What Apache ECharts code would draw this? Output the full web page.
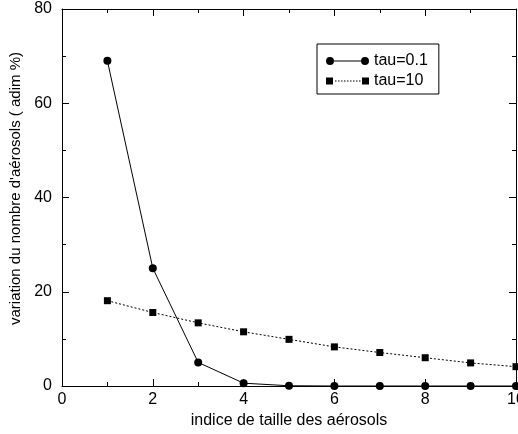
<!DOCTYPE html>
<html>
<head>
<meta charset="utf-8">
<script src="https://cdn.jsdelivr.net/npm/echarts@6/dist/echarts.min.js"></script>
<style>html,body{margin:0;padding:0;background:#fff;}#c{width:518px;height:434px;}</style>
</head>
<body>
<div id="c"></div>
<script>
var indices = [1, 2, 3, 4, 5, 6, 7, 8, 9, 10];
var tau01 = [69, 25, 5, 0.6, 0.05, 0, 0, 0, 0, 0];
var tau10 = [18.1, 15.6, 13.4, 11.5, 9.9, 8.3, 7.1, 6.0, 4.9, 4.1];
var seriesNames = ['tau=0.1', 'tau=10'];
var xTitle = 'indice de taille des aérosols';
var yTitle = "variation du nombre d'aérosols ( adim %)";

function pairs(xs, ys) { return xs.map(function (x, i) { return [x, ys[i]]; }); }

var FONT = '"Liberation Sans", Arial, Helvetica, sans-serif';

// legend icons: line with marker at both ends
var circ = function (cx) { return 'M' + (cx - 4) + ',4 a4,4 0 1,0 8,0 a4,4 0 1,0 -8,0 Z '; };
var iconCircle = 'path://' + circ(4) + 'M8,3.5 L35,3.5 L35,4.5 L8,4.5 Z ' + circ(39);
var dashes = '';
for (var d = 9; d < 34; d += 3) dashes += 'M' + d + ',3.5 L' + (d + 1.5) + ',3.5 L' + (d + 1.5) + ',4.5 L' + d + ',4.5 Z ';
var iconSquare = 'path://M0,0.5 L7,0.5 L7,7.5 L0,7.5 Z ' + dashes + 'M36,0.5 L43,0.5 L43,7.5 L36,7.5 Z';

var axisCommon = {
  axisLine: { show: true, onZero: false, lineStyle: { color: '#000', width: 1 } },
  splitLine: { show: false },
  axisTick: { show: true, inside: true, length: 7, lineStyle: { color: '#000' } },
  minorTick: { show: true, splitNumber: 2, length: 4, lineStyle: { color: '#000' } }
};

var chart = echarts.init(document.getElementById('c'), null, { renderer: 'canvas' });
chart.setOption({
  animation: false,
  backgroundColor: '#fff',
  textStyle: { fontFamily: FONT },
  grid: { left: 62, right: 2, top: 9, bottom: 48, containLabel: false, outerBoundsMode: 'none' },
  legend: {
    orient: 'vertical',
    left: 317, top: 44,
    padding: [9, 11, 5, 9],
    itemGap: 4,
    itemWidth: 43, itemHeight: 8,
    borderColor: '#000', borderWidth: 1,
    textStyle: { fontFamily: FONT, fontSize: 16, color: '#000' },
    data: [
      { name: seriesNames[0], icon: iconCircle },
      { name: seriesNames[1], icon: iconSquare }
    ]
  },
  xAxis: [
    Object.assign({}, axisCommon, {
      type: 'value', min: 0, max: 10, interval: 2, position: 'bottom',
      name: xTitle, nameLocation: 'middle', nameGap: 26,
      nameTextStyle: { fontFamily: FONT, fontSize: 16, color: '#000' },
      axisLabel: { margin: 6, fontFamily: FONT, fontSize: 16, color: '#000' }
    }),
    Object.assign({}, axisCommon, {
      type: 'value', min: 0, max: 10, interval: 2, position: 'top',
      axisLabel: { show: false }
    })
  ],
  yAxis: [
    Object.assign({}, axisCommon, {
      type: 'value', min: 0, max: 80, interval: 20, position: 'left',
      name: yTitle, nameLocation: 'middle', nameGap: 33, nameRotate: 90,
      nameTextStyle: { fontFamily: FONT, fontSize: 15, color: '#000', padding: [0, 0, 0, 18] },
      axisLabel: { margin: 10, fontFamily: FONT, fontSize: 16, color: '#000' }
    }),
    Object.assign({}, axisCommon, {
      type: 'value', min: 0, max: 80, interval: 20, position: 'right',
      axisLabel: { show: false }
    })
  ],
  series: [
    {
      name: seriesNames[0], type: 'line', data: pairs(indices, tau01),
      symbol: 'circle', symbolSize: 8, showAllSymbol: true,
      itemStyle: { color: '#000' },
      lineStyle: { color: '#000', width: 1 },
      clip: false, z: 3
    },
    {
      name: seriesNames[1], type: 'line', data: pairs(indices, tau10),
      symbol: 'rect', symbolSize: 7, showAllSymbol: true,
      itemStyle: { color: '#000' },
      lineStyle: { color: '#000', width: 1, type: [2, 2] },
      clip: false, z: 2
    }
  ]
});
</script>
</body>
</html>
